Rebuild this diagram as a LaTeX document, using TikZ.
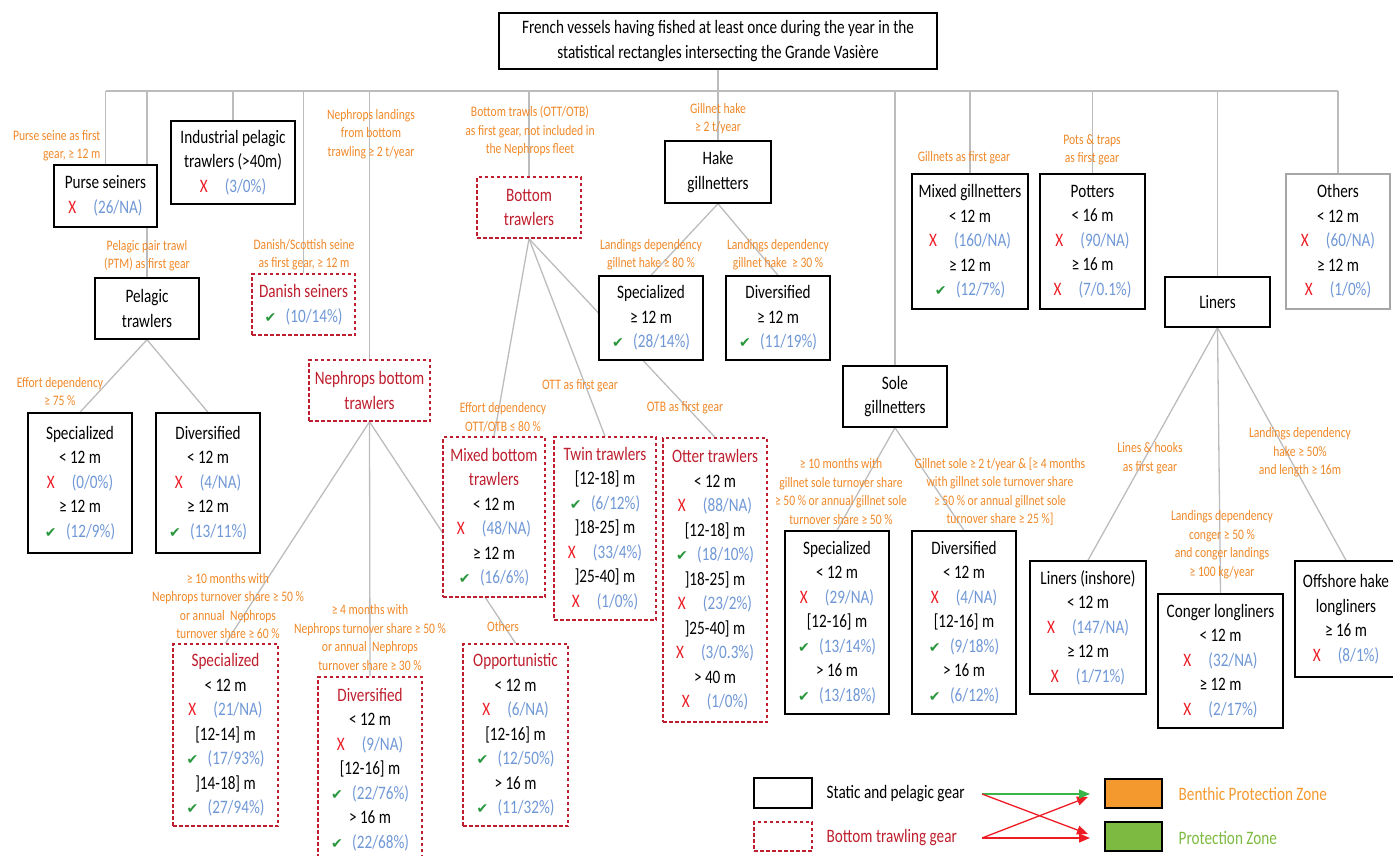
\documentclass[tikz,border=0pt]{standalone}
\usepackage{fontspec}
\setmainfont[FakeStretch=0.8]{Carlito}
\newfontfamily\symfont{DejaVu Sans}
\usetikzlibrary{arrows.meta,backgrounds}

\definecolor{condorange}{RGB}{240,136,40}
\definecolor{trawlred}{RGB}{190,30,45}
\definecolor{xred}{RGB}{237,28,36}
\definecolor{valblue}{RGB}{112,152,214}
\definecolor{okgreen}{RGB}{40,150,60}
\definecolor{linkgray}{RGB}{188,188,188}
\definecolor{bpzorange}{RGB}{244,153,46}
\definecolor{pzgreen}{RGB}{125,186,66}
\definecolor{arrowgreen}{RGB}{58,181,74}

\newcommand{\boxfont}{\fontsize{19}{24.5}\selectfont}
\newcommand{\condfont}{\fontsize{14.5}{18.5}\selectfont}
\newcommand{\nok}[1]{\textcolor{xred}{X}\hspace{0.9em}\textcolor{valblue}{#1}}
\newcommand{\yes}[1]{\textcolor{okgreen}{\symfont\fontsize{14}{14}\selectfont ✔}\hspace{0.5em}\textcolor{valblue}{#1}}
\newcommand{\tr}[1]{\textcolor{trawlred}{#1}}

\tikzset{every picture/.style={line width=1.3pt}}

\begin{document}
\begin{tikzpicture}[x=1pt,y=-1pt,
  dims/.style 2 args={minimum width=#1pt, minimum height=#2pt},
  gearbox/.style={draw=black, line width=1.4pt, fill=white, inner sep=0pt, align=center, font=\boxfont},
  trawlbox/.style={gearbox, draw=trawlred, line width=1.5pt, dash pattern=on 3.5pt off 2.5pt},
  otherbox/.style={gearbox, draw=black!35},
  link/.style={draw=linkgray, line width=1.3pt},
  cond/.style={text=condorange, align=center, font=\condfont, inner sep=0pt},
  legarrow/.style={line width=1.3pt, -{Triangle[length=11pt,width=9pt]}}]
\useasboundingbox (0,0) rectangle (1393,855);

% Root
\node[gearbox, dims={438}{56}, font=\fontsize{19}{24.5}\selectfont] (root) at (718,41) {French vessels having fished at least once during the year in the\\statistical rectangles intersecting the Grande Vasière};

% First level
\node[gearbox, dims={103}{62}] (purse) at (105.5,196) {Purse seiners\\\nok{(26/NA)}};
\node[gearbox, dims={124}{83}] (indus) at (233,162.5) {Industrial pelagic\\trawlers (>40m)\\\nok{(3/0\%)}};
\node[gearbox, dims={104}{61}] (pelagic) at (147,308.5) {Pelagic\\trawlers};
\node[trawlbox, dims={103}{61}] (danish) at (303.5,304.5) {\tr{Danish seiners}\\\yes{(10/14\%)}};
\node[trawlbox, dims={121}{61}] (nephrops) at (369.5,390.5) {\tr{Nephrops bottom}\\\tr{trawlers}};
\node[trawlbox, dims={104}{61}] (bottom) at (529,207.5) {\tr{Bottom}\\\tr{trawlers}};
\node[gearbox, dims={106}{62}] (hake) at (718,172) {Hake\\gillnetters};
\node[gearbox, dims={104}{61}] (sole) at (895,396.5) {Sole\\gillnetters};
\node[gearbox, dims={116}{135}] (mixgill) at (970,241.5) {Mixed gillnetters\\< 12 m\\\nok{(160/NA)}\\≥ 12 m\\\yes{(12/7\%)}};
\node[gearbox, dims={105}{135}] (potters) at (1092.5,241.5) {Potters\\< 16 m\\\nok{(90/NA)}\\≥ 16 m\\\nok{(7/0.1\%)}};
\node[gearbox, dims={105}{50}] (liners) at (1217.5,302) {Liners};
\node[otherbox, dims={104}{135}] (others) at (1338,241.5) {Others\\< 12 m\\\nok{(60/NA)}\\≥ 12 m\\\nok{(1/0\%)}};

% Pelagic trawlers
\node[gearbox, dims={104}{140}] (pelspec) at (80,483) {Specialized\\< 12 m\\\nok{(0/0\%)}\\≥ 12 m\\\yes{(12/9\%)}};
\node[gearbox, dims={104}{140}] (peldiv) at (208,483) {Diversified\\< 12 m\\\nok{(4/NA)}\\≥ 12 m\\\yes{(13/11\%)}};

% Hake gillnetters
\node[gearbox, dims={104}{84}] (hakespec) at (651,318) {Specialized\\≥ 12 m\\\yes{(28/14\%)}};
\node[gearbox, dims={104}{84}] (hakediv) at (778,318) {Diversified\\≥ 12 m\\\yes{(11/19\%)}};

% Bottom trawlers
\node[trawlbox, dims={102}{160}] (mixbot) at (494,517) {\tr{Mixed bottom}\\\tr{trawlers}\\< 12 m\\\nok{(48/NA)}\\≥ 12 m\\\yes{(16/6\%)}};
\node[trawlbox, dims={102}{183}] (twin) at (605,528.5) {\tr{Twin trawlers}\\{}[12-18] m\\\yes{(6/12\%)}\\]18-25] m\\\nok{(33/4\%)}\\]25-40] m\\\nok{(1/0\%)}};
\node[trawlbox, dims={104}{284}] (otter) at (715,580) {\tr{Otter trawlers}\\< 12 m\\\nok{(88/NA)}\\{}[12-18] m\\\yes{(18/10\%)}\\]18-25] m\\\nok{(23/2\%)}\\]25-40] m\\\nok{(3/0.3\%)}\\> 40 m\\\nok{(1/0\%)}};

% Nephrops bottom trawlers
\node[trawlbox, dims={105}{182}] (nephspec) at (225.5,735) {\tr{Specialized}\\< 12 m\\\nok{(21/NA)}\\{}[12-14] m\\\yes{(17/93\%)}\\]14-18] m\\\yes{(27/94\%)}};
\node[trawlbox, dims={104}{185}] (nephdiv) at (370,769.5) {\tr{Diversified}\\< 12 m\\\nok{(9/NA)}\\{}[12-16] m\\\yes{(22/76\%)}\\> 16 m\\\yes{(22/68\%)}};
\node[trawlbox, dims={105}{182}] (opport) at (515.5,735) {\tr{Opportunistic}\\< 12 m\\\nok{(6/NA)}\\{}[12-16] m\\\yes{(12/50\%)}\\> 16 m\\\yes{(11/32\%)}};

% Sole gillnetters
\node[gearbox, dims={104}{183}] (solespec) at (837,622.5) {Specialized\\< 12 m\\\nok{(29/NA)}\\{}[12-16] m\\\yes{(13/14\%)}\\> 16 m\\\yes{(13/18\%)}};
\node[gearbox, dims={104}{183}] (solediv) at (964,622.5) {Diversified\\< 12 m\\\nok{(4/NA)}\\{}[12-16] m\\\yes{(9/18\%)}\\> 16 m\\\yes{(6/12\%)}};

% Liners
\node[gearbox, dims={116}{133}] (inshore) at (1088,627.5) {Liners (inshore)\\< 12 m\\\nok{(147/NA)}\\≥ 12 m\\\nok{(1/71\%)}};
\node[gearbox, dims={125}{134}] (conger) at (1220.5,661) {Conger longliners\\< 12 m\\\nok{(32/NA)}\\≥ 12 m\\\nok{(2/17\%)}};
\node[gearbox, dims={102}{116}] (offshore) at (1346,619) {Offshore hake\\longliners\\≥ 16 m\\\nok{(8/1\%)}};

% Connectors
\begin{scope}[on background layer]
\coordinate (bus) at (0,91);
\draw[link] (purse.north |- bus) -- (others.north |- bus);
\foreach \n in {purse,pelagic,indus,danish,nephrops,bottom,sole,mixgill,potters,liners,others}
  \draw[link] (\n.north |- bus) -- (\n.north);
\draw[link] (root.south) -- (hake.north);
\draw[link] (pelagic.south) -- (pelspec.north);
\draw[link] (pelagic.south) -- (peldiv.north);
\draw[link] (hake.south) -- (hakespec.north);
\draw[link] (hake.south) -- (hakediv.north);
\draw[link] (bottom.south) -- (mixbot.north);
\draw[link] (bottom.south) -- (twin.north);
\draw[link] (bottom.south) -- (otter.north);
\draw[link] (nephrops.south) -- (nephspec.north);
\draw[link] (nephrops.south) -- (nephdiv.north);
\draw[link] (nephrops.south) -- (opport.north);
\draw[link] (sole.south) -- (solespec.north);
\draw[link] (sole.south) -- (solediv.north);
\draw[link] (liners.south) -- (inshore.north);
\draw[link] (liners.south) -- (conger.north);
\draw[link] (liners.south) -- (offshore.north);
\end{scope}

% Conditions
\node[cond, anchor=east, align=right] (cpurse) at (101,145.5) {Purse seine as first\\gear, ≥ 12 m};
\node[cond] (cneph) at (371,134) {Nephrops landings\\from bottom\\trawling ≥ 2 t/year};
\node[cond] (cbottom) at (530,131) {Bottom trawls (OTT/OTB)\\as first gear, not included in\\the Nephrops fleet};
\node[cond] (chake) at (718,118.5) {Gillnet hake\\≥ 2 t/year};
\node[cond] (cmixgill) at (964,158) {Gillnets as first gear};
\node[cond] (cpotters) at (1092,150) {Pots \& traps\\as first gear};
\node[cond] (cpelagic) at (147,255.5) {Pelagic pair trawl\\(PTM) as first gear};
\node[cond] (cdanish) at (304,254.5) {Danish/Scottish seine\\as first gear, ≥ 12 m};
\node[cond] (chakespec) at (651,254.5) {Landings dependency\\gillnet hake ≥ 80 \%};
\node[cond] (chakediv) at (778,254.5) {Landings dependency\\gillnet hake~ ≥ 30 \%};
\node[cond] (cpelspec) at (60,391.5) {Effort dependency\\≥ 75 \%};
\node[cond] (cmixbot) at (503,417.5) {Effort dependency\\OTT/OTB ≤ 80 \%};
\node[cond] (ctwin) at (580,386) {OTT as first gear};
\node[cond] (cotter) at (685,408) {OTB as first gear};
\node[cond] (csolespec) at (841,491.5) {≥ 10 months with\\gillnet sole turnover share\\≥ 50 \% or annual gillnet sole\\turnover share ≥ 50 \%};
\node[cond] (csolediv) at (1000,491.5) {Gillnet sole ≥ 2 t/year \& [≥ 4 months\\with gillnet sole turnover share\\≥ 50 \% or annual gillnet sole\\turnover share ≥ 25 \%]};
\node[cond] (cinshore) at (1150,458) {Lines \& hooks\\as first gear};
\node[cond] (cconger) at (1222,544.5) {Landings dependency\\conger ≥ 50 \%\\and conger landings\\≥ 100 kg/year};
\node[cond] (coffshore) at (1300,452.5) {Landings dependency\\hake ≥ 50\%\\and length ≥ 16m};
\node[cond] (cnephspec) at (228,606) {≥ 10 months with\\Nephrops turnover share ≥ 50 \%\\or annual~ Nephrops\\turnover share ≥ 60 \%};
\node[cond] (cnephdiv) at (370,637.5) {≥ 4 months with\\Nephrops turnover share ≥ 50 \%\\or annual~ Nephrops\\turnover share ≥ 30 \%};
\node[cond] (copport) at (503,627) {Others};

% Legend
\node[gearbox, dims={58}{30}] (legstatic) at (783,793) {};
\node[trawlbox, dims={58}{29}] (legtrawl) at (783,836.5) {};
\node[anchor=west, inner sep=0pt, font=\boxfont] (legstatictxt) at (826,794) {Static and pelagic gear};
\node[anchor=west, inner sep=0pt, font=\boxfont, text=trawlred] (legtrawltxt) at (826,838) {Bottom trawling gear};
\node[gearbox, fill=bpzorange, dims={57}{29}] (legbpz) at (1133.5,793.5) {};
\node[gearbox, fill=pzgreen, dims={57}{29}] (legpz) at (1133.5,836.5) {};
\node[anchor=west, inner sep=0pt, font=\boxfont, text=bpzorange] (legbpztxt) at (1178,794) {Benthic Protection Zone};
\node[anchor=west, inner sep=0pt, font=\boxfont, text=pzgreen] (legpztxt) at (1178,838) {Protection Zone};
\coordinate (fromA) at (982,794);
\coordinate (fromB) at (982,838);
\coordinate (toA) at (1090,794);
\coordinate (toA2) at (1088,797);
\coordinate (toB) at (1090,838);
\coordinate (toB2) at (1088,834);
\draw[legarrow, xred] (fromB) -- (toA2);
\draw[legarrow, arrowgreen] (fromA) -- (toA);
\draw[legarrow, xred] (fromA) -- (toB2);
\draw[legarrow, xred] (fromB) -- (toB);

\end{tikzpicture}
\end{document}
